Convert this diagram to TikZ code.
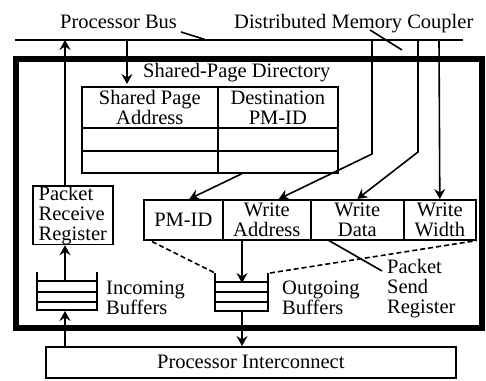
\documentclass[tikz,border=0pt]{standalone}
\usepackage{fontspec}
\setmainfont{Liberation Serif}
\usetikzlibrary{arrows.meta,calc}
\tikzset{
  lw/.style={line width=1.6pt},
  txt/.style={font=\fontsize{20.5}{20}\selectfont, inner sep=0pt},
  cell/.style={draw, lw, txt, anchor=north west, align=center, inner sep=0pt},
  arr/.style={lw, -{Stealth[length=10pt,width=11pt,inset=3.5pt]}},
  dashline/.style={lw, dash pattern=on 5pt off 3pt},
}
\begin{document}
\begin{tikzpicture}[x=1pt,y=-1pt]
\useasboundingbox (0,0) rectangle (486,380);
% labels at top
\node[txt, anchor=base west] (pbl) at (60,28) {Processor Bus};
\node[txt, anchor=base west] (dmcl) at (234,28) {Distributed Memory Coupler};
% bus
\coordinate (busW) at (15,40);
\coordinate (busE) at (463,40);
\draw[lw] (busW) -- (busE);
\draw[lw] (181,32) -- (205,39.5);
\draw[lw] (370,30) -- (402,50);
% outer box
\node[draw, line width=5.5pt, minimum width=466pt, minimum height=269pt, anchor=north west, inner sep=0pt] (dmc) at (13,56) {};
% shared page directory
\node[txt, anchor=base west] (spdl) at (143,77) {Shared-Page Directory};
\node[cell, minimum width=136pt, minimum height=41pt] (spa) at (81,86) {Shared Page\\Address};
\node[cell, minimum width=120pt, minimum height=41pt] (dpm) at (217,86) {Destination\\PM-ID};
\node[cell, minimum width=136pt, minimum height=23pt] (r1a) at (81,127) {};
\node[cell, minimum width=120pt, minimum height=23pt] (r1b) at (217,127) {};
\node[cell, minimum width=136pt, minimum height=22pt] (r2a) at (81,150) {};
\node[cell, minimum width=120pt, minimum height=22pt] (r2b) at (217,150) {};
% packet send register
\node[cell, minimum width=79pt, minimum height=40pt] (pmid) at (143,199) {PM-ID};
\node[cell, minimum width=88pt, minimum height=40pt] (wa) at (222,199) {Write\\Address};
\node[cell, minimum width=93pt, minimum height=40pt] (wd) at (310,199) {Write\\Data};
\node[cell, minimum width=72pt, minimum height=40pt] (ww) at (403,199) {Write\\Width};
% packet receive register
\node[draw, lw, txt, anchor=north west, minimum width=80pt, minimum height=56pt, align=left] (prr) at (32,185) {Packet\\Receive\\Register};
% processor interconnect
\node[draw, lw, txt, anchor=north west, minimum width=410pt, minimum height=31pt] (pi) at (45,346) {Processor Interconnect};
% incoming buffers
\draw[lw] (37,272) -- (37,311) (97,272) -- (97,311);
\foreach \y in {281,292,302,310} \draw[lw] (37,\y) -- (97,\y);
\coordinate (ibTop) at (65,281);
\coordinate (ibBot) at (65,311);
\node[txt, anchor=north west, align=left, font=\fontsize{20.5}{16.5}\selectfont] (ibl) at (106,281) {Incoming\\Buffers};
% outgoing buffers
\draw[lw] (215,273) -- (215,312) (268,273) -- (268,312);
\foreach \y in {282,292,302,311} \draw[lw] (215,\y) -- (268,\y);
\coordinate (obTop) at (242,283);
\coordinate (obBot) at (242,311);
\coordinate (obTL) at (215,273);
\coordinate (obTR) at (270,273);
\node[txt, anchor=north west, align=left, font=\fontsize{20.5}{16.5}\selectfont] (obl) at (282,281) {Outgoing\\Buffers};
% packet send register label
\node[txt, anchor=north west, align=left] (psrl) at (387,259) {Packet\\Send\\Register};
\draw[lw] (328,240) -- (382,271);
% connectors
\coordinate (bA) at (65,40);
\coordinate (bB) at (127,40);
\coordinate (spdTip) at (127,84);
\coordinate (b1) at (372,40);
\coordinate (b2) at (418,40);
\coordinate (b3) at (439,40);
\draw[arr] (prr.north -| bA) -- (bA);
\draw[arr] (bB) -- (spdTip);
\draw[arr] ($(r2b.south west)+(25,0)$) -- ($(pmid.north)+(6,0)$);
\draw[arr] (b1) -- (372,154) -- ($(wa.north)+(12,0)$);
\draw[arr] (b2) -- (418,152) -- (wd.north);
\draw[arr] (b3) -- (ww.north);
\draw[arr] (wa.south -| obTop) -- (obTop);
\draw[arr] (obBot) -- (pi.north -| obBot);
\draw[arr] (pi.north -| ibBot) -- (ibBot);
\draw[arr] (ibTop) -- (prr.south -| ibTop);
\draw[dashline] ($(pmid.south west)+(9,1)$) -- (obTL);
\draw[dashline] (obTR) -- (ww.south east);
\end{tikzpicture}
\end{document}
